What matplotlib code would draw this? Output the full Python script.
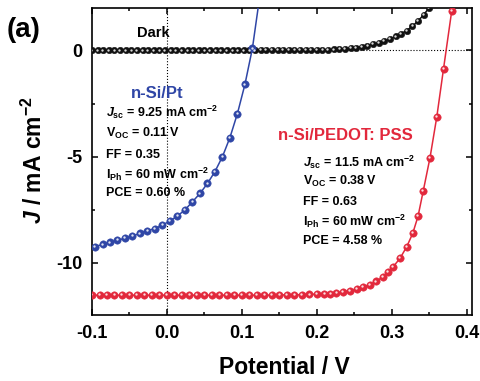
import numpy as np
import matplotlib
matplotlib.use('Agg')
import matplotlib.pyplot as plt
from matplotlib.ticker import MultipleLocator
from matplotlib import transforms

plt.rcParams['font.family'] = 'Liberation Sans'
plt.rcParams['font.weight'] = 'bold'
plt.rcParams['axes.unicode_minus'] = False
plt.rcParams['mathtext.fontset'] = 'custom'
plt.rcParams['mathtext.rm'] = 'Liberation Sans:bold'
plt.rcParams['mathtext.it'] = 'Liberation Sans:italic:bold'
plt.rcParams['mathtext.bf'] = 'Liberation Sans:bold'

# dark J-V sweep
darkV = [-0.1, -0.0925, -0.085, -0.0775, -0.07, -0.0625, -0.055, -0.0475, -0.04, -0.0325,
         -0.025, -0.0175, -0.01, -0.0025, 0.005, 0.0125, 0.02, 0.0275, 0.035, 0.0425,
         0.05, 0.0575, 0.065, 0.0725, 0.08, 0.0875, 0.095, 0.1025, 0.11, 0.1175,
         0.125, 0.1325, 0.14, 0.1475, 0.155, 0.1625, 0.17, 0.1775, 0.185, 0.1925,
         0.2, 0.2075, 0.215, 0.2225, 0.23, 0.2375, 0.245, 0.2525, 0.26, 0.2675,
         0.275, 0.2825, 0.29, 0.2975, 0.305, 0.3125, 0.32, 0.3275, 0.335, 0.3425, 0.35]
darkJ = [0.0, 0.0, 0.0, 0.0, 0.0, 0.0, 0.0, 0.0, 0.0, 0.0,
         0.0, 0.0, 0.0, 0.0, 0.0, 0.0, 0.0, 0.0, 0.0, 0.0,
         0.0, 0.0, 0.0, 0.0, 0.0, 0.0, 0.0, 0.0, 0.0, 0.0,
         0.01, 0.01, 0.01, 0.01, 0.01, 0.01, 0.01, 0.01, 0.01, 0.01,
         0.02, 0.03, 0.04, 0.05, 0.07, 0.09, 0.11, 0.14, 0.18, 0.23,
         0.29, 0.36, 0.44, 0.54, 0.66, 0.79, 0.94, 1.14, 1.39, 1.68, 2.02]

# n-Si/Pt under illumination
ptV = [-0.096, -0.086, -0.076, -0.066, -0.056, -0.046, -0.036, -0.026, -0.016, -0.006,
       0.004, 0.014, 0.024, 0.034, 0.044, 0.054, 0.064, 0.074, 0.084, 0.094,
       0.104, 0.114, 0.124]
ptJ = [-9.23, -9.13, -9.03, -8.93, -8.84, -8.73, -8.61, -8.48, -8.38, -8.22,
       -8.02, -7.79, -7.5, -7.12, -6.73, -6.26, -5.7, -5.0, -4.1, -2.97,
       -1.6, 0.1, 2.6]

# n-Si/PEDOT:PSS under illumination
pedotV = [-0.1, -0.09, -0.08, -0.07, -0.06, -0.05, -0.04, -0.03, -0.02, -0.01,
          0.0, 0.01, 0.02, 0.03, 0.04, 0.05, 0.06, 0.07, 0.08, 0.09,
          0.1, 0.11, 0.12, 0.13, 0.14, 0.15, 0.16, 0.17, 0.18, 0.19,
          0.2, 0.21, 0.218, 0.226, 0.235, 0.244, 0.253, 0.262, 0.271, 0.279,
          0.288, 0.295, 0.302, 0.311, 0.32, 0.328, 0.335, 0.342, 0.351, 0.36,
          0.369, 0.38, 0.389]
pedotJ = [-11.52, -11.52, -11.52, -11.52, -11.52, -11.52, -11.52, -11.52, -11.52, -11.52,
          -11.52, -11.52, -11.52, -11.52, -11.52, -11.52, -11.52, -11.52, -11.52, -11.52,
          -11.52, -11.52, -11.52, -11.52, -11.51, -11.51, -11.5, -11.5, -11.49, -11.48,
          -11.47, -11.45, -11.44, -11.41, -11.37, -11.31, -11.24, -11.14, -11.02, -10.87,
          -10.66, -10.43, -10.17, -9.78, -9.23, -8.6, -7.8, -6.6, -5.04, -3.13,
          -0.86, 1.88, 4.3]

ptLines = [r'$J_{\rm sc}$ = 9.25 mA cm$^{-2}$', r'V$_{\rm OC}$ = 0.11 V', 'FF = 0.35',
           r'I$_{\rm Ph}$ = 60 mW cm$^{-2}$', 'PCE = 0.60 %']
pedotLines = [r'$J_{\rm sc}$ = 11.5 mA cm$^{-2}$', r'V$_{\rm OC}$ = 0.38 V', 'FF = 0.63',
              r'I$_{\rm Ph}$ = 60 mW cm$^{-2}$', 'PCE = 4.58 %']

blue = '#2f46a6'
red = '#e2283c'

fig = plt.figure(figsize=(4.81, 3.81), dpi=100)
ax = fig.add_axes([0.1913, 0.1732, 0.790, 0.8058])

ax.axhline(0, color='k', ls=':', lw=0.8, zorder=1)
ax.axvline(0, color='k', ls=':', lw=0.8, zorder=1)

# shiny ball markers: coloured disc plus a small white highlight
shine = transforms.offset_copy(ax.transData, fig=fig, x=-0.6, y=0.6, units='points')
for v, j, c, ms in [(darkV, darkJ, '#111111', 4.6), (ptV, ptJ, blue, 5.3), (pedotV, pedotJ, red, 5.3)]:
    ax.plot(v, j, '-', color=c, lw=1.1, marker='o', ms=ms, mfc=c, mec=c, mew=0.4, zorder=3)
    ax.plot(v, j, 'o', color='white', ms=1.7, mew=0, alpha=0.85, transform=shine, zorder=4)

ax.set_xlim(-0.1, 0.407)
ax.set_ylim(-12.45, 2.0)
ax.xaxis.set_minor_locator(MultipleLocator(0.05))
ax.yaxis.set_minor_locator(MultipleLocator(2.5))
ax.set_xticks([-0.1, 0.0, 0.1, 0.2, 0.3, 0.4])
ax.set_xticklabels(['-0.1', '0.0', '0.1', '0.2', '0.3', '0.4'])
ax.set_yticks([0, -5, -10])
ax.set_yticklabels(['0', '-5', '-10'])
ax.tick_params(which='both', direction='in', top=True, right=True, width=1.1)
ax.tick_params(which='major', length=4, labelsize=13, pad=7)
ax.tick_params(which='minor', length=2.5)
for s in ax.spines.values():
    s.set_linewidth(1.2)

ax.set_xlabel('Potential / V', fontsize=16.5, fontweight='bold')
ax.set_ylabel(r'$J$ / mA cm$^{-2}$', fontsize=16.5, fontweight='bold')
ax.xaxis.set_label_coords(0.505, -0.135)
ax.yaxis.set_label_coords(-0.118, 0.505)

ax.text(-0.0187, 0.83, 'Dark', fontsize=10.5, ha='center', va='center')
ax.text(-0.013, -2.04, 'n-Si/Pt', fontsize=12, color=blue, ha='center', va='center')
ax.text(0.2387, -4.01, 'n-Si/PEDOT: PSS', fontsize=12, color=red, ha='center', va='center')

for i, s in enumerate(ptLines):
    ax.text(-0.081, [-2.93, -3.92, -4.9, -5.84, -6.73][i], s, fontsize=9, ha='left', va='center')
for i, s in enumerate(pedotLines):
    ax.text(0.1813, [-5.28, -6.17, -7.15, -8.05, -8.99][i], s, fontsize=9, ha='left', va='center')

fig.text(0.05, 0.921, '(a)', fontsize=20, fontweight='bold', ha='center', va='center')

fig.savefig('out.png', dpi=100)
